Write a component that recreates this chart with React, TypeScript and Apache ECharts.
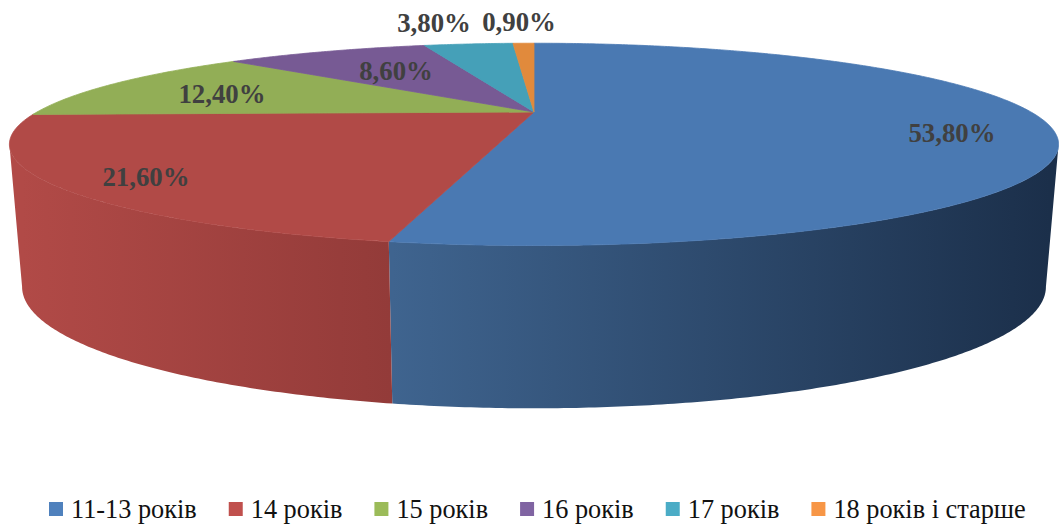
import React, { useEffect, useRef } from "react";
import * as echarts from "echarts";

const categories = ["11-13 років", "14 років", "15 років", "16 років", "17 років", "18 років і старше"];
const values = [53.8, 21.6, 12.4, 8.6, 3.8, 0.9];
const legendColors = ["#4f81bd", "#c0504d", "#9bbb59", "#8064a2", "#4bacc6", "#f79646"];
const topColors = ["#4a79b2", "#b14a47", "#92ae56", "#775a94", "#45a0b8", "#e18a3c"];
const labelAnchors = [[952, 133], [146, 177], [222, 94], [396, 71], [434, 23], [519, 22]];

const total = values.reduce((a, b) => a + b, 0);
const DEG = Math.PI / 180;
const CX = 534;
const PERSP = 0.32;
const TOP = { r: 497, k: 90.8, y0: 112 };
const BOTTOM = { r: 485, k: 109, y0: 248 };

// Perspective projection of a rim point of the pie, angle clockwise from 12 o'clock.
function project(plane: typeof TOP, deg: number): number[] {
  const u = Math.sin(deg * DEG);
  const v = -Math.cos(deg * DEG);
  const d = 1 - v * PERSP;
  return [CX + (plane.r * u) / d, plane.y0 + (plane.k * v) / d];
}

function arc(plane: typeof TOP, from: number, to: number): number[][] {
  const n = Math.max(2, Math.ceil(Math.abs(to - from) * 2));
  const pts: number[][] = [];
  for (let i = 0; i <= n; i++) pts.push(project(plane, from + ((to - from) * i) / n));
  return pts;
}

// Side walls are visible only on the front of the pie, between its left and right extremes
// (the rim's horizontal extremes, where cos(angle) = -PERSP).
const FRONT_FROM = Math.acos(-PERSP) / DEG;
const FRONT_TO = 360 - FRONT_FROM;
const sideGradients: Record<number, any> = {
  0: { type: "linear", global: true, x: 392, y: 0, x2: 1050, y2: 0, colorStops: [{ offset: 0, color: "#3f648f" }, { offset: 1, color: "#1b2f4a" }] },
  1: { type: "linear", global: true, x: 22, y: 0, x2: 390, y2: 0, colorStops: [{ offset: 0, color: "#b14a47" }, { offset: 1, color: "#933b39" }] },
};

function sliceRenderer(index: number) {
  return (_params: any, api: any) => {
    const before = values.slice(0, index).reduce((a, b) => a + b, 0);
    const value = api.value(0);
    const start = (before / total) * 360;
    const end = ((before + value) / total) * 360;
    const children: any[] = [];
    const a = Math.max(start, FRONT_FROM);
    const b = Math.min(end, FRONT_TO);
    if (b > a && sideGradients[index]) {
      const wall = [...arc(TOP, a, b), ...arc(BOTTOM, b, a)];
      children.push({ type: "polygon", z2: 1, shape: { points: wall }, style: { fill: sideGradients[index] } });
    }
    const face = [[CX, TOP.y0], ...arc(TOP, start, end)];
    children.push({
      type: "polygon",
      z2: 2,
      shape: { points: face },
      style: { fill: topColors[index], stroke: topColors[index], lineWidth: 0.8, lineJoin: "round" },
    });
    children.push({
      type: "text",
      z2: 3,
      style: {
        x: labelAnchors[index][0],
        y: labelAnchors[index][1],
        text: value.toFixed(2).replace(".", ",") + "%",
        fill: "#404040",
        font: 'bold 26.8px "Liberation Serif"',
        textAlign: "center",
        textVerticalAlign: "middle",
      },
    });
    return { type: "group", children };
  };
}

export default function App() {
  const ref = useRef<HTMLDivElement>(null);
  useEffect(() => {
    document.body.style.margin = "0";
    const chart = echarts.init(ref.current!, undefined, { renderer: "svg" });
    chart.setOption({
      animation: false,
      backgroundColor: "#ffffff",
      legend: {
        left: 49,
        top: 496,
        padding: 0,
        itemWidth: 14,
        itemHeight: 14,
        itemGap: 32,
        icon: "rect",
        selectedMode: false,
        data: categories,
        textStyle: { fontFamily: "Liberation Serif", fontSize: 26.3, color: "#111111", padding: [0, 0, 0, 3] },
      },
      series: categories.map((name, i) => ({
        type: "custom",
        name,
        coordinateSystem: "none",
        silent: true,
        itemStyle: { color: legendColors[i] },
        data: [[values[i]]],
        renderItem: sliceRenderer(i),
      })),
    });
    return () => chart.dispose();
  }, []);
  return <div ref={ref} style={{ position: "absolute", left: 0, top: 0, width: 1059, height: 529 }} />;
}
